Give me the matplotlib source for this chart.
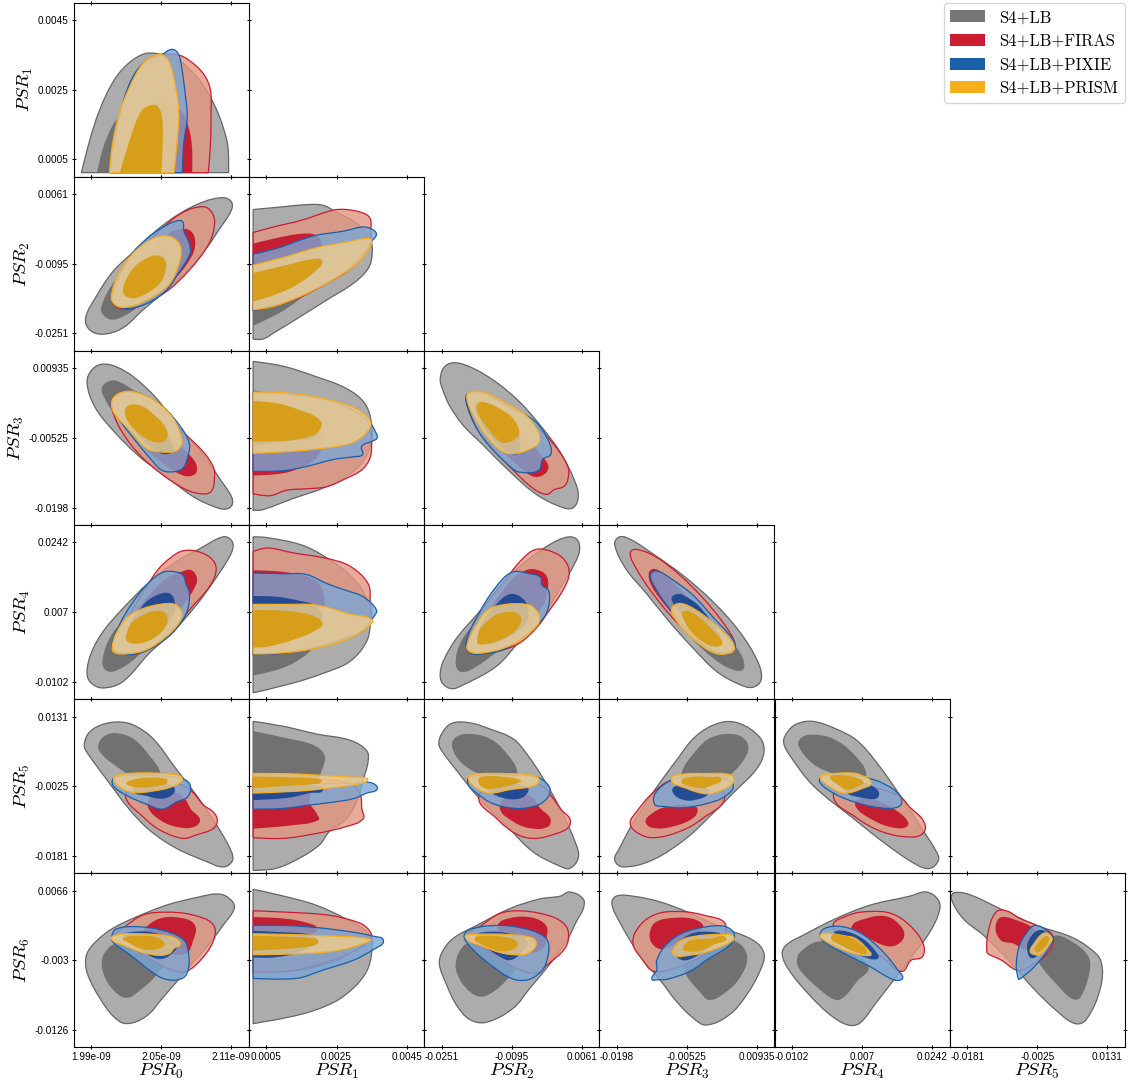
import math
import matplotlib
matplotlib.use("Agg")
import matplotlib.pyplot as plt
from matplotlib.path import Path
from matplotlib.patches import PathPatch, Patch

# parameter centres and tick steps, contour vertices below are (value - centre) / step in percent
CENTER = [2.05e-9, 0.0025, -0.0095, -0.00525, 0.007, -0.0025, -0.003]
STEP = [0.06e-9, 0.002, 0.0156, 0.01455, 0.0172, 0.0156, 0.0096]
TICKS = [
    ["1.99e-09", "2.05e-09", "2.11e-09"],
    ["0.0005", "0.0025", "0.0045"],
    ["-0.0251", "-0.0095", "0.0061"],
    ["-0.0198", "-0.00525", "0.00935"],
    ["-0.0102", "0.007", "0.0242"],
    ["-0.0181", "-0.0025", "0.0131"],
    ["-0.0126", "-0.003", "0.0066"],
]
labels = ["S4+LB", "S4+LB+FIRAS", "S4+LB+PIXIE", "S4+LB+PRISM"]

# PSR1 vs PSR0
p10_g1 = [(-114,-119),(-102,-72),(-88,-29),(-69,11),(-50,35),(-26,51),(-7,52),(21,45),(50,19),(67,-5),(79,-29),(88,-53),(95,-81),(96,-119)]
p10_g2 = [(-92,-119),(-79,-72),(-57,-34),(-31,-22),(-2,-15),(12,-34),(19,-72),(18,-119)]
p10_r1 = [(-71,-119),(-67,-72),(-48,0),(-26,38),(-2,50),(24,50),(40,42),(60,23),(70,0),(71,-34),(70,-81),(67,-119)]
p10_r2 = [(-57,-119),(-40,-62),(-17,-24),(7,-17),(29,-31),(40,-58),(44,-86),(44,-119)]
p10_b1 = [(-74,-119),(-67,-72),(-48,2),(-26,38),(0,50),(15,58),(24,52),(29,33),(34,-5),(37,-39),(32,-77),(30,-119)]
p10_b2 = [(-57,-119),(-40,-62),(-19,-24),(-7,-23),(1,-39),(1,-77),(0,-119)]
p10_o1 = [(-74,-119),(-70,-81),(-60,-34),(-45,4),(-26,38),(-7,50),(2,50),(12,38),(21,0),(25,-34),(22,-81),(18,-119)]
p10_o2 = [(-59,-119),(-48,-81),(-29,-31),(-14,-22),(-5,-24),(1,-39),(2,-77),(0,-119)]

# PSR2 vs PSR0, PSR1
p20_g1 = [(-108,-78),(-93,-47),(-69,-11),(-40,17),(-7,48),(26,72),(60,89),(88,95),(100,89),(100,77),(83,50),(64,22),(36,-11),(7,-38),(-26,-66),(-55,-92),(-83,-101),(-102,-95)]
p20_g2 = [(-86,-64),(-69,-28),(-40,5),(-7,33),(17,31),(22,12),(10,-19),(-17,-47),(-43,-69),(-67,-80),(-80,-76)]
p20_r1 = [(-71,-47),(-40,10),(-2,48),(31,74),(60,82),(72,74),(76,58),(68,29),(40,-9),(7,-40),(-31,-61),(-60,-64)]
p20_r2 = [(-54,-38),(-26,5),(7,41),(36,50),(48,36),(43,10),(12,-28),(-26,-49),(-48,-48)]
p20_b1 = [(-70,-47),(-45,10),(-21,36),(-2,50),(17,60),(30,61),(32,48),(40,29),(41,15),(26,-11),(5,-40),(-31,-61),(-60,-62)]
p20_b2 = [(-54,-39),(-36,-11),(-7,12),(5,8),(5,-14),(-17,-40),(-43,-48)]
p20_o1 = [(-71,-45),(-64,-21),(-45,10),(-21,31),(2,40),(19,36),(28,22),(25,0),(12,-28),(-12,-47),(-40,-60),(-60,-62),(-70,-54)]
p20_o2 = [(-55,-38),(-48,-18),(-36,-2),(-21,8),(-7,12),(5,5),(6,-9),(-2,-28),(-17,-40),(-36,-49),(-50,-47)]
p21_g1 = [(-119,78),(-76,82),(-43,85),(-19,84),(0,74),(29,58),(48,36),(51,15),(45,-7),(24,-28),(-14,-52),(-52,-76),(-86,-97),(-105,-108),(-119,-108)]
p21_g2 = [(-119,-4),(-76,8),(-29,18),(-16,12),(-18,-4),(-33,-33),(-71,-64),(-100,-80),(-119,-89)]
p21_r1 = [(-119,45),(-86,54),(-52,62),(-5,77),(14,78),(38,73),(48,65),(49,48),(48,29),(24,-4),(-14,-28),(-62,-52),(-119,-67)]
p21_r2 = [(-119,29),(-86,37),(-52,43),(-29,41),(-21,27),(-29,0),(-67,-30),(-119,-52)]
p21_b1 = [(-119,14),(-86,22),(-52,34),(-29,41),(10,47),(38,53),(52,49),(57,42),(49,31),(36,12),(14,-9),(-24,-33),(-71,-54),(-119,-67)]
p21_b2 = [(-119,-13),(-62,0),(-23,8),(-21,-2),(-52,-26),(-119,-51)]
p21_o1 = [(-119,-2),(-76,9),(-29,23),(14,31),(48,36),(49,27),(29,0),(-5,-23),(-52,-47),(-90,-61),(-119,-66)]
p21_o2 = [(-119,-13),(-76,-3),(-38,6),(-21,4),(-31,-11),(-62,-33),(-95,-47),(-119,-54)]

# PSR3 vs PSR0, PSR1, PSR2
p30_g1 = [(-106,80),(-98,99),(-83,106),(-64,102),(-40,88),(-7,57),(26,14),(60,-24),(83,-58),(100,-84),(101,-96),(93,-102),(79,-100),(45,-84),(7,-55),(-31,-27),(-69,11),(-95,45)]
p30_g2 = [(-85,71),(-78,80),(-64,82),(-36,66),(-2,40),(19,9),(12,-10),(-12,-8),(-40,11),(-69,38),(-81,57)]
p30_r1 = [(76,-55),(71,-77),(55,-80),(31,-72),(-2,-50),(-31,-24),(-55,7),(-70,40),(-69,57),(-52,66),(-31,64),(2,42),(31,9),(60,-20),(74,-41)]
p30_r2 = [(51,-43),(48,-52),(36,-55),(19,-48),(-7,-29),(-36,0),(-52,35),(-46,47),(-29,42),(-2,19),(33,-17),(46,-31)]
p30_b1 = [(-70,42),(-69,57),(-52,66),(-31,64),(2,45),(29,14),(40,-8),(39,-22),(32,-42),(21,-48),(2,-47),(-12,-34),(-40,0),(-60,26)]
p30_b2 = [(-52,38),(-44,47),(-26,42),(2,14),(17,-15),(10,-23),(-7,-19),(-36,7)]
p30_o1 = [(-71,51),(-64,62),(-48,67),(-31,64),(-7,52),(17,28),(29,0),(29,-10),(20,-19),(-2,-20),(-21,-15),(-45,11),(-67,35)]
p30_o2 = [(-51,42),(-43,48),(-26,45),(-10,33),(2,21),(9,7),(5,-4),(-10,-6),(-26,2),(-40,14),(-50,28)]
p31_g1 = [(-119,110),(-76,103),(-29,88),(14,71),(40,50),(50,21),(49,-8),(36,-36),(14,-55),(-19,-72),(-62,-87),(-105,-103),(-119,-104)]
p31_g2 = [(-119,69),(-62,52),(-24,33),(-13,11),(-23,-3),(-52,-5),(-119,-6)]
p31_r1 = [(-119,66),(-52,61),(-5,52),(31,35),(48,14),(50,-15),(47,-31),(36,-46),(14,-58),(-14,-70),(-43,-73),(-71,-75),(-95,-83),(-119,-80)]
p31_r2 = [(-119,52),(-62,42),(-26,21),(-21,-10),(-31,-31),(-62,-47),(-86,-52),(-119,-54)]
p31_b1 = [(-119,-48),(-76,-47),(-43,-41),(-5,-31),(24,-27),(37,-24),(36,-12),(50,-5),(58,0),(55,10),(49,20),(31,35),(-5,52),(-52,61),(-119,66)]
p31_b2 = [(-119,50),(-62,40),(-26,19),(-31,2),(-62,-4),(-119,-10)]
p31_o1 = [(-119,66),(-76,65),(-29,59),(19,46),(38,35),(49,21),(40,5),(19,-8),(-29,-16),(-76,-20),(-119,-22)]
p31_o2 = [(-119,53),(-86,50),(-52,40),(-29,30),(-21,19),(-31,5),(-62,-3),(-100,-5),(-119,-5)]
p32_g1 = [(-102,85),(-96,102),(-81,108),(-55,100),(-22,80),(11,52),(40,19),(69,-20),(90,-62),(95,-84),(88,-100),(73,-100),(35,-81),(-3,-48),(-41,-10),(-70,19),(-89,47),(-99,71)]
p32_g2 = [(-62,52),(-50,54),(-17,42),(11,23),(26,-3),(16,-20),(0,-20),(-27,0),(-50,26)]
p32_r1 = [(80,-41),(80,-60),(74,-70),(61,-74),(50,-81),(30,-72),(2,-46),(-27,-15),(-50,14),(-65,52),(-62,64),(-41,65),(-8,47),(30,21),(59,-8)]
p32_r2 = [(52,-39),(49,-50),(35,-56),(21,-50),(-8,-24),(-36,9),(-50,42),(-46,52),(-22,42),(11,14),(40,-22)]
p32_b1 = [(-65,53),(-62,64),(-41,65),(-8,47),(33,24),(52,-3),(56,-23),(44,-31),(38,-47),(11,-49),(0,-43),(-29,-15),(-50,14)]
p32_b2 = [(-50,50),(-24,42),(7,14),(11,-20),(0,-23),(-24,-5),(-46,26)]
p32_o1 = [(-64,57),(-61,65),(-41,66),(-8,50),(23,30),(38,8),(39,-6),(28,-15),(7,-22),(-12,-20),(-34,0),(-55,33)]
p32_o2 = [(-50,42),(-46,51),(-34,50),(-17,42),(0,30),(10,14),(9,2),(-8,-7),(-20,-3),(-34,14),(-43,26)]

# PSR4 vs PSR0, PSR1, PSR2, PSR3
p40_g1 = [(-106,-88),(-100,-59),(-83,-28),(-55,5),(-17,43),(21,72),(55,91),(88,108),(100,103),(102,91),(93,72),(74,43),(50,10),(17,-28),(-17,-59),(-55,-100),(-83,-109),(-100,-102)]
p40_g2 = [(-84,-71),(-76,-42),(-60,-19),(-26,5),(7,12),(21,0),(10,-23),(-17,-45),(-40,-69),(-67,-85),(-80,-83)]
p40_r1 = [(31,88),(55,86),(74,74),(78,58),(67,34),(40,3),(12,-33),(-31,-59),(-60,-59),(-70,-50),(-64,-33),(-40,5),(-7,58),(12,77)]
p40_r2 = [(29,58),(43,60),(51,48),(47,34),(33,12),(7,-23),(-26,-44),(-48,-43),(-45,-14),(-21,20),(7,48)]
p40_b1 = [(2,57),(18,58),(31,53),(35,41),(40,27),(38,5),(29,-14),(7,-38),(-31,-59),(-60,-59),(-70,-50),(-60,-19),(-40,15),(-17,43)]
p40_b2 = [(-48,-33),(-26,10),(-7,24),(11,27),(19,16),(17,-4),(-2,-28),(-31,-42)]
p40_o1 = [(-70,-50),(-64,-30),(-48,-7),(-26,5),(-2,11),(19,11),(29,0),(26,-14),(7,-35),(-21,-54),(-50,-60),(-67,-58)]
p40_o2 = [(-50,-33),(-43,-16),(-31,-7),(-17,0),(2,1),(9,-9),(5,-23),(-10,-37),(-26,-44),(-43,-45),(-50,-40)]
p41_g1 = [(-119,108),(-100,107),(-52,97),(-19,81),(19,53),(43,20),(48,-14),(43,-42),(19,-71),(-19,-88),(-62,-102),(-119,-116)]
p41_g2 = [(-119,10),(-62,10),(-24,5),(-13,-11),(-24,-38),(-43,-61),(-76,-80),(-119,-91)]
p41_r1 = [(-119,87),(-98,92),(-62,85),(-14,77),(19,66),(45,41),(48,15),(48,-14),(26,-33),(-24,-50),(-76,-59),(-119,-61)]
p41_r2 = [(-119,60),(-71,57),(-31,46),(-18,24),(-21,-4),(-52,-28),(-86,-42),(-119,-50)]
p41_b1 = [(-119,56),(-76,55),(-43,54),(-14,41),(14,31),(38,22),(57,3),(53,-7),(38,-26),(19,-35),(-29,-50),(-76,-59),(-119,-61)]
p41_b2 = [(-119,23),(-86,22),(-52,16),(-29,8),(-21,-14),(-52,-33),(-119,-50)]
p41_o1 = [(-119,11),(-76,11),(-29,10),(19,-3),(51,-11),(45,-21),(24,-35),(-5,-46),(-52,-56),(-100,-60),(-119,-60)]
p41_o2 = [(-119,3),(-76,2),(-38,-4),(-20,-16),(-31,-27),(-62,-40),(-100,-50),(-119,-51)]
p42_g1 = [(-102,-88),(-97,-69),(-79,-38),(-50,-4),(-17,34),(11,65),(45,91),(73,106),(91,106),(97,91),(90,70),(69,34),(45,-4),(11,-42),(-22,-78),(-70,-105),(-86,-110),(-99,-102)]
p42_g2 = [(-80,-73),(-72,-42),(-50,-14),(-17,8),(21,10),(28,-4),(11,-33),(-17,-54),(-50,-78),(-72,-86)]
p42_r1 = [(35,90),(59,86),(76,74),(82,55),(73,31),(52,0),(35,-23),(7,-47),(-36,-59),(-60,-58),(-64,-42),(-41,5),(-8,48),(16,77)]
p42_r2 = [(20,60),(35,61),(49,53),(52,36),(45,10),(16,-23),(-17,-42),(-48,-45),(-48,-28),(-27,10),(0,46)]
p42_b1 = [(0,57),(26,55),(41,50),(43,39),(53,30),(52,5),(45,-9),(21,-33),(-12,-54),(-41,-60),(-60,-58),(-64,-40),(-48,-4),(-24,34)]
p42_b2 = [(-21,12),(-5,25),(9,24),(22,10),(21,-14),(-8,-38),(-43,-45),(-46,-23)]
p42_o1 = [(-63,-45),(-53,-23),(-34,3),(-8,11),(21,11),(33,5),(40,-11),(30,-26),(7,-44),(-27,-56),(-53,-59),(-63,-54)]
p42_o2 = [(-49,-40),(-46,-26),(-36,-14),(-20,-3),(2,0),(13,-7),(10,-21),(-3,-33),(-22,-42),(-39,-46),(-48,-46)]
p43_g1 = [(-103,97),(-96,108),(-80,104),(-49,84),(-6,53),(37,15),(75,-28),(101,-71),(106,-97),(94,-108),(75,-104),(42,-85),(9,-52),(-25,-14),(-58,27),(-87,62)]
p43_g2 = [(-15,10),(13,5),(47,-23),(75,-57),(82,-76),(78,-84),(61,-81),(37,-66),(9,-40),(-15,-11)]
p43_r1 = [(-81,85),(-72,90),(-44,79),(-10,53),(23,20),(47,-9),(66,-38),(68,-53),(56,-59),(23,-47),(-15,-14),(-49,27),(-72,62)]
p43_r2 = [(-54,57),(-46,62),(-32,53),(-8,31),(16,5),(40,-26),(50,-45),(40,-50),(13,-38),(-15,-9),(-39,20),(-52,41)]
p43_b1 = [(-52,53),(-43,59),(-20,46),(9,24),(37,-7),(66,-40),(67,-53),(51,-59),(28,-50),(-6,-19),(-25,5),(-43,31)]
p43_b2 = [(-22,19),(-13,26),(-1,22),(18,8),(44,-28),(49,-45),(37,-50),(13,-33),(-10,0)]
p43_o1 = [(-22,3),(-13,12),(4,8),(32,-11),(61,-38),(68,-52),(61,-59),(40,-59),(13,-42),(-10,-19)]
p43_o2 = [(-7,-2),(-1,2),(13,-4),(32,-21),(49,-40),(50,-47),(37,-49),(23,-43),(6,-28),(-3,-14)]

# PSR5 vs PSR0 ... PSR4
p50_g1 = [(-110,59),(-102,78),(-79,90),(-50,91),(-26,80),(-7,63),(21,25),(50,-13),(79,-56),(100,-94),(101,-108),(88,-116),(64,-108),(21,-89),(-17,-63),(-45,-34),(-79,11),(-105,47)]
p50_g2 = [(-90,59),(-81,72),(-64,76),(-40,68),(-17,44),(-1,18),(-7,1),(-40,13),(-69,32),(-86,47)]
p50_r1 = [(-51,-15),(-26,-44),(-2,-63),(31,-75),(50,-70),(74,-61),(80,-49),(74,-37),(60,-27),(44,-8),(21,5),(-7,5),(-36,-1)]
p50_r2 = [(-19,-30),(2,-51),(31,-60),(50,-57),(55,-47),(43,-34),(31,-15),(12,-8),(-12,-13)]
p50_b1 = [(-69,1),(-67,12),(-40,16),(-7,15),(29,11),(41,2),(38,-15),(21,-23),(2,-33),(-21,-26),(-50,-13)]
p50_b2 = [(-40,-6),(-21,-14),(2,-18),(16,-12),(19,-3),(7,4),(-21,7)]
p50_o1 = [(-68,10),(-62,16),(-26,19),(12,17),(30,11),(17,0),(-12,-7),(-40,-9),(-60,-1)]
p50_o2 = [(-50,5),(-31,11),(-2,12),(9,7),(-2,1),(-26,-2),(-44,0)]
p51_g1 = [(-119,93),(-76,86),(-29,75),(19,66),(43,51),(45,35),(38,9),(29,-22),(12,-49),(-10,-65),(-24,-84),(-52,-103),(-86,-118),(-119,-121)]
p51_g2 = [(-119,79),(-76,70),(-33,59),(-17,44),(-21,23),(-31,4),(-62,-6),(-119,-10)]
p51_r1 = [(-119,-74),(-76,-75),(-29,-68),(14,-58),(38,-47),(36,-32),(34,-13),(19,4),(-29,9),(-119,11)]
p51_r2 = [(-119,-61),(-71,-57),(-26,-49),(-29,-38),(-38,-25),(-40,-8),(-100,-6),(-119,-6)]
p51_b1 = [(-119,-33),(-76,-32),(-38,-27),(-5,-23),(24,-18),(43,-10),(58,-4),(49,5),(19,4),(-29,4),(-76,5),(-119,4)]
p51_b2 = [(-119,-20),(-71,-17),(-38,-10),(-19,-6),(-31,2),(-76,4),(-119,4)]
p51_o1 = [(-119,18),(-76,18),(-29,16),(19,13),(44,11),(40,5),(-5,-2),(-52,-7),(-119,-10)]
p51_o2 = [(-119,14),(-76,13),(-29,11),(-21,7),(-33,3),(-76,0),(-119,-3)]
p52_g1 = [(-104,61),(-100,75),(-86,90),(-60,91),(-31,82),(2,68),(21,47),(45,11),(69,-32),(92,-84),(95,-103),(83,-118),(69,-115),(30,-94),(-8,-56),(-46,-18),(-79,23),(-100,51)]
p52_g2 = [(-85,56),(-80,70),(-60,75),(-31,68),(-8,48),(8,20),(-3,5),(-36,13),(-70,32)]
p52_r1 = [(-47,-15),(-22,-46),(7,-69),(33,-75),(64,-68),(81,-59),(83,-47),(71,-34),(57,-15),(42,1),(11,6),(-17,1)]
p52_r2 = [(-17,-30),(4,-52),(30,-61),(52,-58),(55,-46),(40,-31),(28,-15),(4,-10)]
p52_b1 = [(-62,2),(-60,13),(2,16),(35,13),(49,5),(55,-6),(49,-19),(35,-28),(7,-32),(-27,-25),(-50,-10)]
p52_b2 = [(-34,-6),(-12,-17),(11,-18),(23,-9),(22,-1),(-8,6),(-31,2)]
p52_o1 = [(-62,11),(-55,17),(-8,18),(26,16),(39,10),(33,1),(-3,-5),(-31,-10),(-50,-3)]
p52_o2 = [(-48,9),(-41,14),(-8,13),(13,8),(7,4),(-22,-3),(-41,-2)]
p53_g1 = [(-103,-106),(-96,-89),(-77,-53),(-49,-10),(-15,37),(13,72),(47,91),(75,90),(104,70),(110,49),(99,24),(70,-6),(37,-39),(-1,-75),(-49,-106),(-91,-116)]
p53_g2 = [(-8,18),(13,51),(35,70),(70,74),(87,60),(82,39),(56,11),(28,-6),(-1,-1)]
p53_r1 = [(-81,-53),(-72,-37),(-49,-10),(-20,9),(23,6),(54,-15),(23,-46),(-10,-65),(-49,-74),(-72,-66)]
p53_r2 = [(-59,-51),(-51,-40),(-30,-30),(13,-30),(11,-44),(-20,-58),(-49,-60)]
p53_b1 = [(-46,-26),(-45,-10),(-25,7),(-1,13),(47,11),(66,2),(54,-15),(28,-25),(-6,-31),(-34,-29)]
p53_b2 = [(-21,-6),(-13,1),(13,0),(31,-8),(11,-20),(-10,-18)]
p53_o1 = [(-22,9),(-6,17),(23,18),(63,16),(66,5),(49,-6),(28,-11),(-1,-3)]
p53_o2 = [(-8,7),(6,13),(32,13),(49,10),(35,1),(23,-3),(4,0)]
p54_g1 = [(-112,63),(-107,77),(-94,89),(-70,93),(-37,82),(-8,66),(20,35),(54,-13),(82,-56),(106,-94),(109,-106),(97,-118),(78,-113),(35,-84),(-13,-46),(-70,1),(-103,44)]
p54_g2 = [(-91,59),(-86,70),(-70,74),(-41,68),(-13,47),(6,18),(-6,4),(-37,16),(-70,32)]
p54_r1 = [(-41,-15),(-10,-44),(30,-66),(73,-73),(89,-65),(87,-49),(68,-30),(54,-15),(20,-3),(-18,-1)]
p54_r2 = [(-10,-27),(16,-49),(47,-60),(65,-57),(62,-46),(44,-32),(25,-22),(4,-15)]
p54_b1 = [(-60,5),(-58,13),(-27,16),(1,13),(30,4),(55,-15),(53,-29),(25,-31),(-13,-22),(-41,-10)]
p54_b2 = [(-22,-10),(-3,-16),(20,-18),(24,-9),(13,1),(-8,7),(-27,2)]
p54_o1 = [(-60,13),(-51,17),(-18,19),(-2,16),(13,5),(1,-3),(-25,-10),(-46,-1)]
p54_o2 = [(-46,13),(-37,16),(-15,14),(2,6),(-6,0),(-22,-5),(-37,4)]

# PSR6 vs PSR0 ... PSR5
p60_g1 = [(-108,-7),(-105,12),(-90,30),(-69,46),(-36,62),(7,79),(50,90),(83,95),(100,86),(104,74),(88,50),(69,24),(48,0),(26,-26),(2,-54),(-21,-80),(-50,-91),(-69,-80),(-88,-54),(-102,-28)]
p60_g2 = [(-85,-4),(-80,12),(-64,24),(-31,17),(2,-2),(-7,-21),(-29,-42),(-50,-54),(-69,-42),(-81,-23)]
p60_r1 = [(-52,48),(-26,65),(7,69),(45,65),(74,51),(74,27),(52,-4),(31,-17),(7,-11),(-26,8),(-50,22),(-67,34)]
p60_r2 = [(-21,48),(2,61),(36,59),(49,48),(45,27),(36,10),(12,10),(-12,24),(-24,36)]
p60_b1 = [(-71,32),(-64,45),(-31,48),(2,43),(29,32),(37,20),(39,-11),(30,-26),(5,-27),(-17,-14),(-45,8),(-67,24)]
p60_b2 = [(-55,34),(-36,41),(-12,40),(14,31),(24,23),(12,7),(0,2),(-14,5),(-36,20)]
p60_o1 = [(-71,31),(-60,37),(-31,38),(2,36),(21,31),(27,23),(18,17),(12,10),(-2,7),(-26,11),(-55,22)]
p60_o2 = [(-55,31),(-36,35),(-7,33),(5,24),(2,19),(-12,15),(-31,17),(-48,26)]
p61_g1 = [(-119,102),(-71,91),(-29,79),(14,59),(48,36),(50,10),(43,-16),(24,-40),(-5,-61),(-52,-78),(-119,-91)]
p61_g2 = [(-119,41),(-52,36),(-6,27),(17,12),(-24,-9),(-62,-16),(-119,-17)]
p61_r1 = [(-119,71),(-71,69),(-14,65),(29,55),(45,45),(49,32),(19,10),(-29,-7),(-71,-16),(-119,-17)]
p61_r2 = [(-119,62),(-76,60),(-43,54),(-28,45),(-43,34),(-76,24),(-119,20)]
p61_b1 = [(-119,50),(-76,50),(-29,47),(19,41),(50,35),(67,28),(52,15),(24,0),(-19,-14),(-57,-26),(-119,-26)]
p61_b2 = [(-119,42),(-71,40),(-40,37),(-29,29),(-52,12),(-90,4),(-119,4)]
p61_o1 = [(-119,38),(-71,37),(-14,35),(48,30),(36,23),(-5,13),(-62,9),(-119,8)]
p61_o2 = [(-119,35),(-76,34),(-38,32),(-26,28),(-33,21),(-76,16),(-119,14)]
p62_g1 = [(-103,-7),(-100,10),(-84,31),(-50,50),(-3,74),(40,88),(69,92),(83,98),(102,88),(102,74),(92,55),(78,27),(50,-11),(26,-40),(2,-69),(-36,-89),(-60,-85),(-79,-64),(-93,-35)]
p62_g2 = [(-80,-7),(-75,12),(-62,24),(-29,17),(4,-9),(-7,-28),(-29,-47),(-47,-52),(-67,-38),(-78,-19)]
p62_r1 = [(-43,50),(-17,67),(11,71),(50,65),(73,54),(81,39),(76,17),(50,-7),(33,-19),(2,-9),(-31,12),(-62,34)]
p62_r2 = [(-20,50),(0,61),(30,61),(49,50),(50,34),(42,15),(16,12),(-10,29)]
p62_b1 = [(-68,34),(-60,44),(-22,50),(16,46),(45,35),(53,21),(48,-7),(39,-19),(23,-28),(2,-27),(-27,-9),(-55,15)]
p62_b2 = [(-50,35),(-31,41),(-3,38),(22,28),(11,8),(-3,0),(-17,5),(-41,22)]
p62_o1 = [(-66,33),(-50,37),(-8,37),(30,32),(35,23),(28,13),(16,8),(-12,10),(-41,20)]
p62_o2 = [(-53,31),(-36,35),(-3,32),(9,24),(3,16),(-17,13),(-41,22)]
p63_g1 = [(-107,81),(-101,92),(-77,92),(-39,84),(-1,70),(47,48),(94,29),(110,10),(104,-16),(85,-50),(61,-78),(28,-93),(9,-83),(-15,-59),(-37,-30),(-68,8),(-96,55)]
p63_g2 = [(-10,8),(-1,-21),(18,-45),(32,-57),(54,-47),(75,-26),(86,3),(75,24),(37,36),(4,31)]
p63_r1 = [(-77,24),(-70,46),(-49,64),(-20,70),(23,65),(56,48),(28,12),(-6,-7),(-46,-16),(-65,3)]
p63_r2 = [(-53,39),(-44,55),(-15,61),(13,58),(23,46),(-6,31),(-34,16),(-49,23)]
p63_b1 = [(-50,-27),(-43,-14),(-43,0),(-30,22),(-6,39),(28,48),(56,48),(68,35),(59,20),(32,3),(4,-16),(-27,-27),(-41,-28)]
p63_b2 = [(-20,17),(4,37),(32,41),(49,34),(23,12),(-1,0),(-15,5)]
p63_o1 = [(-19,8),(-14,24),(4,33),(47,37),(67,33),(56,23),(28,12),(9,8)]
p63_o2 = [(-6,17),(4,28),(32,31),(56,32),(37,22),(18,13),(-1,13)]
p64_g1 = [(-114,8),(-108,22),(-84,36),(-37,60),(11,79),(68,92),(92,98),(109,86),(110,70),(97,41),(73,8),(44,-30),(20,-61),(-3,-90),(-20,-93),(-46,-78),(-75,-50),(-103,-16)]
p64_g2 = [(-93,-2),(-88,12),(-60,27),(-22,12),(9,-9),(-7,-30),(-25,-52),(-38,-57),(-65,-38),(-87,-16)]
p64_r1 = [(-41,48),(-18,65),(11,70),(42,67),(68,50),(87,24),(86,5),(70,0),(56,-16),(30,3),(-8,29)]
p64_r2 = [(-15,48),(6,60),(35,63),(56,48),(60,34),(51,23),(37,20),(18,27),(-1,39)]
p64_b1 = [(-60,35),(-53,46),(-27,48),(1,37),(30,12),(51,-14),(58,-25),(51,-29),(40,-26),(11,-9),(-22,8),(-51,24)]
p64_b2 = [(-41,39),(-25,42),(1,31),(20,12),(23,3),(11,2),(-13,12),(-37,27)]
p64_o1 = [(-60,35),(-51,39),(-25,35),(-9,31),(12,11),(12,7),(-3,8),(-27,15),(-51,27)]
p64_o2 = [(-44,34),(-22,34),(-7,27),(7,11),(-6,11),(-27,20)]
p65_g1 = [(-123,89),(-118,97),(-96,94),(-49,72),(-1,50),(47,34),(75,17),(91,-2),(90,-40),(70,-85),(54,-91),(28,-73),(-6,-40),(-39,-2),(-77,36),(-106,60)]
p65_g2 = [(-3,12),(6,-9),(28,-35),(49,-55),(61,-54),(74,-19),(73,5),(49,27),(23,35)]
p65_r1 = [(-72,12),(-70,41),(-59,69),(-44,71),(-25,60),(-1,50),(22,35),(16,12),(-15,-11),(-30,-14),(-51,0),(-68,8)]
p65_r2 = [(-59,41),(-58,55),(-51,62),(-34,59),(-6,46),(4,27),(-15,15),(-34,24),(-51,28)]
p65_b1 = [(-27,-27),(-30,-7),(-25,22),(-10,46),(-1,50),(13,43),(22,31),(13,12),(-6,-11),(-25,-27)]
p65_b2 = [(-14,12),(-13,27),(-1,42),(11,42),(19,31),(4,10),(-8,3)]
p65_o1 = [(-10,12),(-6,22),(10,39),(21,32),(17,23),(4,8),(-3,8)]
p65_o2 = [(-4,16),(4,28),(13,35),(17,29),(8,16),(0,11)]

# series style: letter, solid colour, outer fill, outer alpha, inner fill, edge
STYLES = [
    ("g", "#767676", "#757575", 0.6, "#6c6c6c", "#666666"),
    ("r", "#cd1b32", "#e39580", 0.8, "#c4142c", "#cd1b32"),
    ("b", "#1b5fa8", "#7aa6d6", 0.8, "#1b4591", "#1b5fa8"),
    ("o", "#f6ae1d", "#eccb8e", 0.85, "#d89c10", "#f6ae1d"),
]
PRIOR_EDGE = -119  # PSR1 contours stop flat here


def smooth_path(pts, cx, sx, cy, sy):
    # closed spline through the read vertices, sharp where the prior cuts the contour
    n = len(pts)
    dirs = []
    for i in range(n):
        a, b = pts[i - 1], pts[(i + 1) % n]
        d = math.hypot(b[0] - a[0], b[1] - a[1])
        if PRIOR_EDGE in pts[i] or d == 0:
            dirs.append((0, 0))
        else:
            dirs.append(((b[0] - a[0]) / d, (b[1] - a[1]) / d))
    conv = lambda x, y: (cx + sx * x / 100, cy + sy * y / 100)
    verts = [conv(*pts[0])]
    codes = [Path.MOVETO]
    for i in range(n):
        j = (i + 1) % n
        h = math.hypot(pts[j][0] - pts[i][0], pts[j][1] - pts[i][1]) * 0.36
        verts.append(conv(pts[i][0] + dirs[i][0] * h, pts[i][1] + dirs[i][1] * h))
        verts.append(conv(pts[j][0] - dirs[j][0] * h, pts[j][1] - dirs[j][1] * h))
        verts.append(conv(*pts[j]))
        codes += [Path.CURVE4] * 3
    return Path(verts, codes)


plt.rcParams["mathtext.fontset"] = "cm"
W, H = 1129, 1086
fig = plt.figure(figsize=(W / 100, H / 100), dpi=100)

for row in range(1, 7):
    for col in range(row):
        left = 73.7 + 175.2 * col
        top = 2.7 + 174.1 * (row - 1)
        ax = fig.add_axes([left / W, 1 - (top + 174.1) / H, 175.2 / W, 174.1 / H])
        cx, sx = CENTER[col], STEP[col]
        cy, sy = CENTER[row], STEP[row]
        for letter, _, fill1, alpha1, fill2, edge in STYLES:
            outer = smooth_path(globals()[f"p{row}{col}_{letter}1"], cx, sx, cy, sy)
            inner = smooth_path(globals()[f"p{row}{col}_{letter}2"], cx, sx, cy, sy)
            ax.add_patch(PathPatch(outer, facecolor=fill1, alpha=alpha1, edgecolor="none", lw=0))
            ax.add_patch(PathPatch(outer, facecolor="none", edgecolor=edge, lw=0.9))
            ax.add_patch(PathPatch(inner, facecolor=fill2, alpha=0.92, edgecolor="none", lw=0))
        ax.set_xlim(cx - 1.25 * sx, cx + 1.25 * sx)
        ax.set_ylim(cy - 1.25 * sy, cy + 1.25 * sy)
        ax.set_xticks([cx - sx, cx, cx + sx])
        ax.set_yticks([cy - sy, cy, cy + sy])
        ax.tick_params(direction="inout", length=3, width=0.8, top=True, right=True, labelsize=7.2, pad=2)
        ax.set_xticklabels(TICKS[col] if row == 6 else [], family="Liberation Sans")
        ax.set_yticklabels(TICKS[row] if col == 0 else [], family="Liberation Sans")
        if row == 6:
            ax.set_xlabel(rf"$PSR_{col}$", fontsize=13.5, labelpad=0)
        if col == 0:
            ax.set_ylabel(rf"$PSR_{row}$", fontsize=13.5, labelpad=2)

handles = [Patch(facecolor=s[1], label=lab) for s, lab in zip(STYLES, labels)]
fig.legend(handles=handles, loc="upper right", bbox_to_anchor=(1125 / W, 1 - 3 / H), borderaxespad=0,
           prop={"family": "cmr10", "size": 11.9}, handlelength=2.09, handleheight=0.74, labelspacing=0.5,
           borderpad=0.42, handletextpad=0.85)

fig.savefig("out.png", dpi=100)
